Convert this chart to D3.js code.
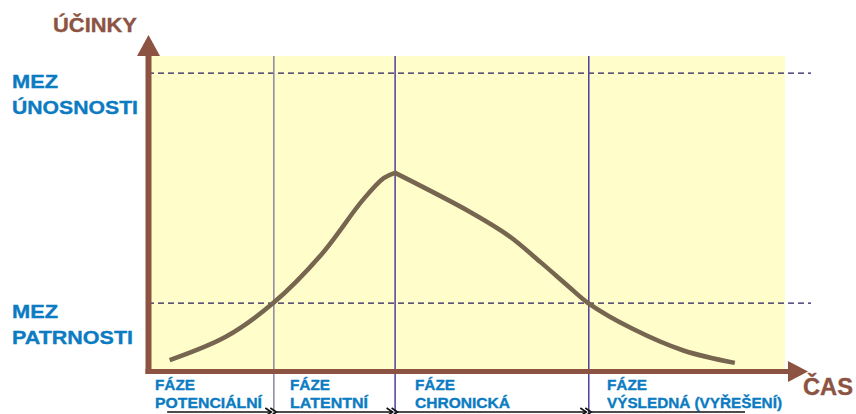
<!DOCTYPE html>
<html>
<head>
<meta charset="utf-8">
<script src="https://cdn.jsdelivr.net/npm/d3@7"></script>
<style>
  body { margin: 0; background: #fff; }
  svg { display: block; font-family: "Liberation Sans", Arial, sans-serif; font-weight: bold; }
  text { stroke-width: 0.35px; }
</style>
</head>
<body>
<svg id="chart" width="856" height="414"></svg>
<script>
// time (0-100) vs. effect (0-100)
var riseX = [3.1, 12.0, 19.4, 27.0, 33.5, 36.8, 38.6];
var riseY = [1.9, 9.5, 20.3, 36.0, 53.5, 60.6, 62.3];
var fallX = [38.6, 50.4, 56.5, 61.5, 66.0, 69.0, 76.0, 84.0, 92.1];
var fallY = [62.3, 49.7, 42.0, 33.5, 25.5, 20.3, 12.0, 5.0, 1.0];

var phaseBounds = [19.5, 38.6, 69.1];
var thresholds = [
  {name: ["MEZ", "ÚNOSNOSTI"], value: 94.5},
  {name: ["MEZ", "PATRNOSTI"], value: 20.3}
];
var phases = [
  {top: "FÁZE", bottom: "POTENCIÁLNÍ", from: 2.7, to: 19.5},
  {top: "FÁZE", bottom: "LATENTNÍ", from: 19.5, to: 38.6},
  {top: "FÁZE", bottom: "CHRONICKÁ", from: 38.6, to: 69.1},
  {top: "FÁZE", bottom: "VÝSLEDNÁ (VYŘEŠENÍ)", from: 69.1, to: 93.7}
];
var yTitle = "ÚČINKY";
var xTitle = "ČAS";

var svg = d3.select("#chart");
var brown = "#8c5342", blue = "#0b7bc2", navy = "#2a1e5e";

var x = d3.scaleLinear().domain([0, 100]).range([150, 785]);
var y = d3.scaleLinear().domain([0, 100]).range([366, 56]);

var defs = svg.append("defs");
function marker(id, d) {
  defs.append("marker")
      .attr("id", id)
      .attr("viewBox", "-7 -5 9 10")
      .attr("markerWidth", 9)
      .attr("markerHeight", 10)
      .attr("markerUnits", "userSpaceOnUse")
      .attr("orient", "auto")
    .append("path")
      .attr("d", d)
      .attr("fill", "none")
      .attr("stroke", "#111")
      .attr("stroke-width", 1.6);
}
marker("chev", "M-6,-4L0,0L-6,4");

// plot background
svg.append("rect")
    .attr("x", x(0)).attr("y", y(100))
    .attr("width", x(100) - x(0))
    .attr("height", 369 - y(100))
    .attr("fill", "#fffdca");

// threshold lines
svg.selectAll(".thr").data(thresholds).enter().append("line")
    .attr("x1", 148).attr("x2", 811)
    .attr("y1", function(d) { return y(d.value); })
    .attr("y2", function(d) { return y(d.value); })
    .attr("stroke", navy)
    .attr("stroke-width", 1.2)
    .attr("stroke-dasharray", "6,4");

// phase boundaries
svg.selectAll(".bound").data(phaseBounds).enter().append("line")
    .attr("x1", function(d) { return x(d); })
    .attr("x2", function(d) { return x(d); })
    .attr("y1", y(100)).attr("y2", 414)
    .attr("stroke", function(d, i) { return i == 0 ? "#8d86a2" : "#4d3f9c"; })
    .attr("stroke-width", 1.5);

// effect curve: rising and falling branch joined at the peak
function zipPts(xs, ys) { return xs.map(function(v, i) { return [v, ys[i]]; }); }
var line = d3.line()
    .x(function(d) { return x(d[0]); })
    .y(function(d) { return y(d[1]); })
    .curve(d3.curveCatmullRom.alpha(0.5));
var dRise = line(zipPts(riseX, riseY));
var dFall = line(zipPts(fallX, fallY)).replace(/^M/, "L");
svg.append("path")
    .attr("d", dRise + dFall)
    .attr("fill", "none")
    .attr("stroke", "#76654f")
    .attr("stroke-width", 4.5)
    .attr("stroke-linejoin", "round");

// axes
svg.append("line")
    .attr("x1", 148.5).attr("x2", 148.5)
    .attr("y1", 374).attr("y2", 54)
    .attr("stroke", brown).attr("stroke-width", 6);
svg.append("path")
    .attr("d", "M137,56L148.5,35L160,56Z")
    .attr("fill", brown);
svg.append("line")
    .attr("x1", 145.5).attr("x2", 790)
    .attr("y1", 371.5).attr("y2", 371.5)
    .attr("stroke", brown).attr("stroke-width", 5);
svg.append("path")
    .attr("d", "M788,361L808,371.5L788,382Z")
    .attr("fill", brown);

// axis titles
svg.append("text")
    .attr("x", 53).attr("y", 32)
    .attr("font-size", 21)
    .attr("textLength", 84).attr("lengthAdjust", "spacingAndGlyphs")
    .attr("fill", brown).attr("stroke", brown)
    .text(yTitle);
svg.append("text")
    .attr("x", 803).attr("y", 395)
    .attr("font-size", 23)
    .attr("textLength", 50).attr("lengthAdjust", "spacingAndGlyphs")
    .attr("fill", brown).attr("stroke", brown)
    .text(xTitle);

// threshold labels
var thrLen = [[46, 126], [46, 121]];
thresholds.forEach(function(t, i) {
  var base = y(t.value) + 15;
  t.name.forEach(function(s, j) {
    svg.append("text")
        .attr("x", 12)
        .attr("y", base + j * 25.5)
        .attr("font-size", 19)
        .attr("textLength", thrLen[i][j]).attr("lengthAdjust", "spacingAndGlyphs")
        .attr("fill", blue).attr("stroke", blue)
        .text(s);
  });
});

// phase labels
var phaseX = [155, 290, 415, 607];
var phaseLen = [107, 78, 95, 175];
var pg = svg.selectAll(".phase").data(phases).enter().append("g");
pg.append("text")
    .attr("x", function(d, i) { return phaseX[i]; })
    .attr("y", 390)
    .attr("font-size", 15)
    .attr("textLength", 40).attr("lengthAdjust", "spacingAndGlyphs")
    .attr("fill", blue).attr("stroke", blue)
    .text(function(d) { return d.top; });
pg.append("text")
    .attr("x", function(d, i) { return phaseX[i]; })
    .attr("y", 408)
    .attr("font-size", 15)
    .attr("textLength", function(d, i) { return phaseLen[i]; })
    .attr("lengthAdjust", "spacingAndGlyphs")
    .attr("fill", blue).attr("stroke", blue)
    .text(function(d) { return d.bottom; });

// phase extent arrows
pg.append("line")
    .attr("x1", function(d) { return x(d.from) + (d.from == 2.7 ? 0 : 2.5); })
    .attr("x2", function(d) { return x(d.to) - (d.to > 90 ? 0 : 2.5); })
    .attr("y1", 412).attr("y2", 412)
    .attr("stroke", "#111")
    .attr("stroke-width", 1.6)
    .attr("marker-start", function(d, i) { return i > 0 ? "url(#chev)" : null; })
    .attr("marker-end", function(d, i) { return i < 3 ? "url(#chev)" : null; });
</script>
</body>
</html>
